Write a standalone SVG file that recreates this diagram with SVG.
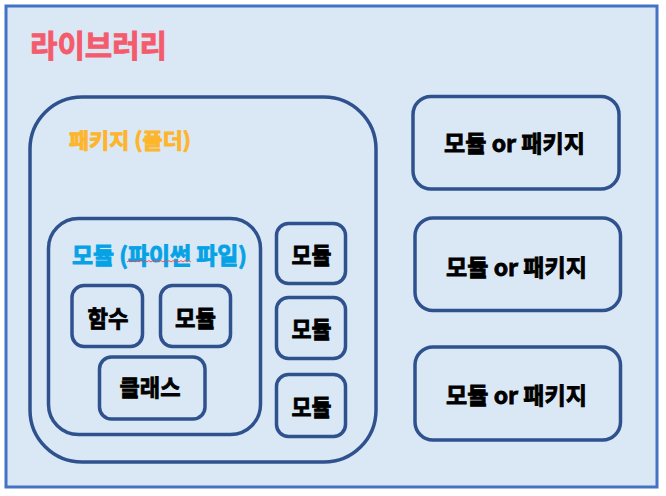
<svg xmlns="http://www.w3.org/2000/svg" width="666" height="496" viewBox="0 0 666 496">
  <style>
    .box { fill: none; stroke: #2F528F; stroke-width: 3.5; }
    .lbl { font-family: "Noto Sans CJK KR", "Noto Sans", sans-serif; font-weight: 700; font-size: 23px; fill: #000000; stroke: #000000; stroke-width: 0.8; text-anchor: middle; dominant-baseline: central; }
    .title { font-family: "Noto Sans CJK KR", "Noto Sans", sans-serif; font-weight: 700; stroke-width: 0.9; dominant-baseline: central; }
  </style>
  <rect id="library" x="6" y="6" width="651" height="481" fill="#DAE8F5" stroke="#4472C4" stroke-width="3"/>
  <text class="title" x="30" y="43" font-size="31" fill="#F45B6C" stroke="#F45B6C" stroke-width="1.2" textLength="137" lengthAdjust="spacingAndGlyphs">라이브러리</text>

  <g id="package">
    <rect class="box" x="30" y="97" width="346" height="365" rx="52"/>
    <text class="title" x="69" y="138.5" font-size="21" fill="#FDB52B" stroke="#FDB52B" textLength="122" lengthAdjust="spacingAndGlyphs">패키지 (폴더)</text>
  </g>

  <g id="python-file">
    <rect class="box" x="48.5" y="218.5" width="212" height="216" rx="30"/>
    <text class="title" x="72" y="253.5" font-size="23" fill="#06A2E6" stroke="#06A2E6" textLength="175" lengthAdjust="spacingAndGlyphs">모듈 (파이썬 파일)</text>
    <path d="M127 262 l2 -1.5 l2 1.5 l2 -1.5 l2 1.5 l2 -1.5 l2 1.5 l2 -1.5 l2 1.5 l2 -1.5 l2 1.5 l2 -1.5 l2 1.5 l2 -1.5 l2 1.5 l2 -1.5 l2 1.5 l2 -1.5 l2 1.5 l2 -1.5 l2 1.5 l2 -1.5 l2 1.5 l2 -1.5 l2 1.5 l2 -1.5 l2 1.5 l2 -1.5 l2 1.5 l2 -1.5 l2 1.5 l2 -1.5 l2 1.5" fill="none" stroke="#E8434F" stroke-width="0.9"/>
  </g>

  <g id="function">
    <rect class="box" x="72" y="285.5" width="70.5" height="61" rx="12"/>
    <text class="lbl" x="108" y="316.5" textLength="41" lengthAdjust="spacingAndGlyphs">함수</text>
  </g>
  <g id="module-inner">
    <rect class="box" x="160.5" y="285.5" width="70" height="61" rx="12"/>
    <text class="lbl" x="195.5" y="316.5" textLength="41" lengthAdjust="spacingAndGlyphs">모듈</text>
  </g>
  <g id="class">
    <rect class="box" x="99.5" y="357" width="105.5" height="62" rx="12"/>
    <text class="lbl" x="150" y="386" textLength="61" lengthAdjust="spacingAndGlyphs">클래스</text>
  </g>

  <g id="module-1">
    <rect class="box" x="276.5" y="223.5" width="69" height="60" rx="12"/>
    <text class="lbl" x="311.5" y="253.5" textLength="40" lengthAdjust="spacingAndGlyphs">모듈</text>
  </g>
  <g id="module-2">
    <rect class="box" x="276.5" y="297.5" width="69" height="61" rx="12"/>
    <text class="lbl" x="311.5" y="328" textLength="40" lengthAdjust="spacingAndGlyphs">모듈</text>
  </g>
  <g id="module-3">
    <rect class="box" x="276.5" y="374.5" width="69" height="62" rx="12"/>
    <text class="lbl" x="311.5" y="405.5" textLength="40" lengthAdjust="spacingAndGlyphs">모듈</text>
  </g>

  <g id="item-1">
    <rect class="box" x="413" y="96.5" width="206" height="92.5" rx="18"/>
    <text class="lbl" x="514.5" y="141.5" textLength="141" lengthAdjust="spacingAndGlyphs">모듈 or 패키지</text>
  </g>
  <g id="item-2">
    <rect class="box" x="415" y="218" width="205.5" height="92.5" rx="18"/>
    <text class="lbl" x="516.5" y="265.5" textLength="141" lengthAdjust="spacingAndGlyphs">모듈 or 패키지</text>
  </g>
  <g id="item-3">
    <rect class="box" x="415" y="347" width="205.5" height="93" rx="18"/>
    <text class="lbl" x="516.5" y="394" textLength="141" lengthAdjust="spacingAndGlyphs">모듈 or 패키지</text>
  </g>

  <g id="connectors"></g>
</svg>
